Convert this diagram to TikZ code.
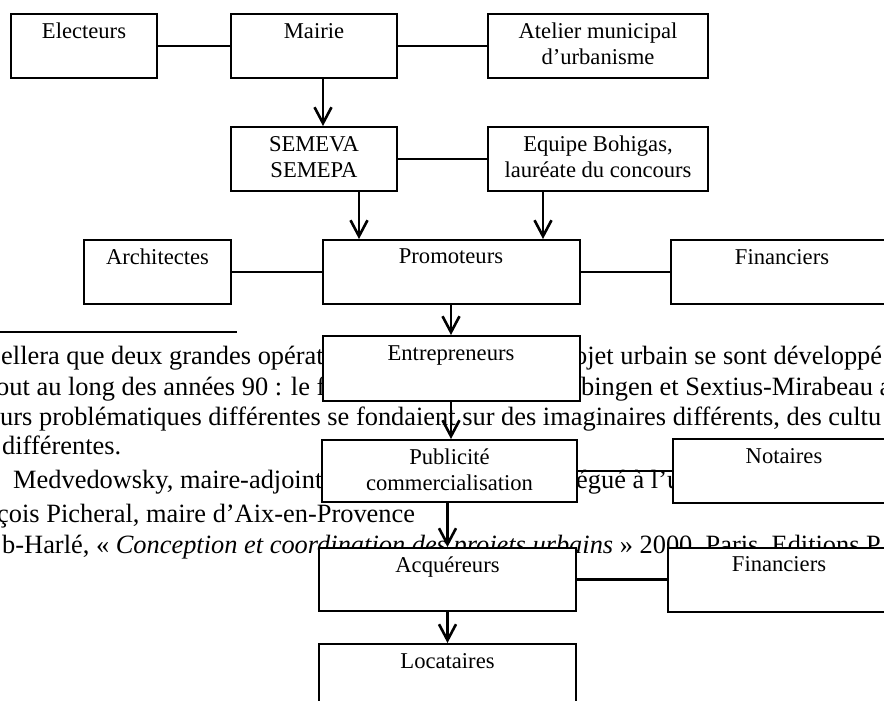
\documentclass[tikz,border=0pt]{standalone}
\usepackage{fontspec}
\setmainfont{Liberation Serif}
\usetikzlibrary{arrows.meta}
\newcommand{\notefont}{\fontsize{26.4}{29}\selectfont}
\newcommand{\boxfont}{\fontsize{22.6}{26}\selectfont}
\tikzset{
  box/.style={draw, fill=white, line width=2pt, minimum height=64pt, inner sep=0pt,
    label={[boxlabel]north:#1}},
  boxlabel/.style={anchor=north, yshift=-10pt, inner sep=0pt, align=center, font=\boxfont},
  small/.style={minimum width=146pt},
  mid/.style={minimum width=166pt},
  side/.style={minimum width=222pt},
  wide/.style={minimum width=257pt},
  link/.style={line width=2.4pt},
  flow/.style={line width=2.6pt, ->},
  note/.style={anchor=base west, inner sep=0pt, font=\notefont},
}

\begin{document}
\begin{tikzpicture}[x=1pt,y=-1pt,>={Straight Barb[length=16pt,width=17pt]}]
  \useasboundingbox (0,0) rectangle (884,701);
  \fill[white] (0,0) rectangle (884,701);
  \clip (0,0) rectangle (884,701);

  % footnotes running under the chart
  \draw[line width=1.3pt] (0,332) coordinate (rulel) -- (237,332) coordinate (ruler);
  \node[note] (noteaa) at (1,364) {ellera que deux grandes opérat};
  \node[note] (noteab) at (574,364) {ojet urbain se sont développé};
  \node[note] (noteba) at (-4,395) {out au long des années 90 : le f};
  \node[note] (notebb) at (581,395) {bingen et Sextius-Mirabeau a};
  \node[note] (notec) at (0,425) {urs problématiques différentes se fondaient sur des imaginaires différents, des cultu};
  \node[note] (noted) at (2,454) {différentes.};
  \node[note] (noteea) at (13,488) {Medvedowsky, maire-adjoint};
  \node[note] (noteeb) at (576,488) {égué à l’u};
  \node[note] (notef) at (-3,522) {çois Picheral, maire d’Aix-en-Provence};
  \node[note] (noteg) at (2,553) {b-Harlé, « \textit{Conception et coordination des projets urbains} » 2000, Paris, Editions P};

  % actors
  \node[box=Electeurs, small] (electeurs) at (84,46) {};
  \node[box=Mairie, mid] (mairie) at (314,46) {};
  \node[box={Atelier municipal\\d’urbanisme}, side, minimum width=220pt] (atelier) at (598,46) {};
  \node[box={SEMEVA\\SEMEPA}, mid] (semeva) at (314,159) {};
  \node[box={Equipe Bohigas,\\lauréate du concours}, side, minimum width=220pt] (equipe) at (598,159) {};
  \node[box=Architectes, small, minimum width=147pt] (architectes) at (157.5,272) {};
  \node[box=Promoteurs, wide] (promoteurs) at (451,272) {};
  \node[box=Financiers, side] (financiers) at (782,272) {};
  \node[box=Entrepreneurs, wide, minimum height=65pt] (entrepreneurs) at (451,368.5) {};
  \node[box={Publicité\\commercialisation}, wide, minimum width=255pt, minimum height=62pt] (publicite) at (449.5,471) {};
  \node[box=Notaires, side] (notaires) at (784,471) {};
  \node[box=Acquéreurs, wide, minimum height=63pt] (acquereurs) at (447.5,579.5) {};
  \node[box=Financiers, side] (financiersb) at (779,579.5) {};
  \node[box=Locataires, wide] (locataires) at (447.5,676) {};

  % plain links
  \draw[link] (electeurs) -- (mairie);
  \draw[link] (mairie) -- (atelier);
  \draw[link] (semeva) -- (equipe);
  \draw[link] (architectes) -- (promoteurs);
  \draw[link] (promoteurs) -- (financiers);
  \draw[link] (publicite) -- (notaires);
  \draw[link] (acquereurs) -- (financiersb);

  % arrows
  \draw[flow] ([xshift=9pt]mairie.south) -- ([xshift=9pt]mairie.south |- semeva.north);
  \draw[flow] ([xshift=-92pt]promoteurs.north |- semeva.south) -- ([xshift=-92pt]promoteurs.north);
  \draw[flow] ([xshift=92pt]promoteurs.north |- equipe.south) -- ([xshift=92pt]promoteurs.north);
  \draw[flow] (promoteurs) -- (entrepreneurs);
  \draw[flow] (entrepreneurs.south) -- (entrepreneurs.south |- publicite.north);
  \draw[flow] (acquereurs.north |- publicite.south) -- (acquereurs.north);
  \draw[flow] (acquereurs) -- (locataires);
\end{tikzpicture}
\end{document}
